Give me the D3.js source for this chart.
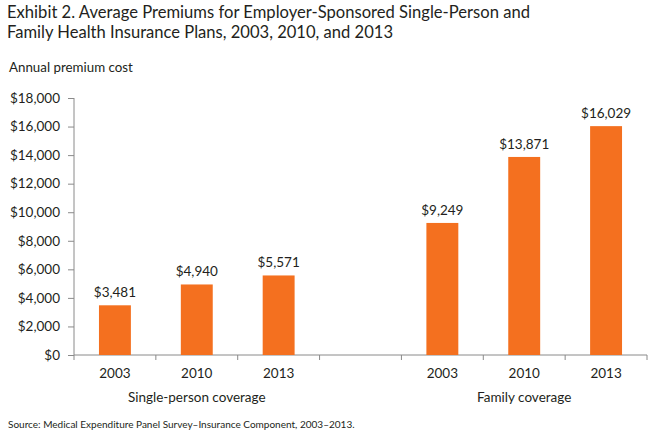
<!DOCTYPE html>
<html>
<head>
<meta charset="utf-8">
<script src="https://cdn.jsdelivr.net/npm/d3@7"></script>
<style>
  html, body { margin: 0; padding: 0; background: #fff; }
  svg { display: block; font-family: Lato, "Open Sans", sans-serif; }
</style>
</head>
<body>
<svg id="chart" width="656" height="436"></svg>
<script>
// ---- Data ----
const titleLines = [
  "Exhibit 2. Average Premiums for Employer-Sponsored Single-Person and",
  "Family Health Insurance Plans, 2003, 2010, and 2013"
];
const yAxisTitle = "Annual premium cost";
const sourceText = "Source: Medical Expenditure Panel Survey\u2013Insurance Component, 2003\u20132013.";
const years = ["2003", "2010", "2013"];
const groups = ["Single-person coverage", "Family coverage"];
const singleValues = [3481, 4940, 5571];
const familyValues = [9249, 13871, 16029];
const yTicks = [0, 2000, 4000, 6000, 8000, 10000, 12000, 14000, 16000, 18000];

const seriesByGroup = [singleValues, familyValues];
const rows = [];
groups.forEach((g, gi) => {
  years.forEach((y, yi) => rows.push({ key: gi + "-" + y, group: g, year: y, value: seriesByGroup[gi][yi] }));
});
// slot keys with an empty slot between the two groups
const slots = [...years.map(y => "0-" + y), "gap", ...years.map(y => "1-" + y)];

// ---- Layout ----
const svg = d3.select("#chart");
const textColor = "#231f20";
const axisColor = "#8a8a8a";
const barColor = "#f4701f";

const x = d3.scaleBand().domain(slots).range([74, 647]).paddingInner(0.61).paddingOuter(0.305);
const y = d3.scaleLinear().domain([0, 18000]).range([355, 98]);

function fit(sel, target) {
  const node = sel.node();
  const w = node.getComputedTextLength();
  const fs = parseFloat(sel.attr("font-size"));
  sel.attr("font-size", (fs * target / w).toFixed(2));
}

// Title (condensed to the reference width)
svg.append("text").attr("x", 7).attr("y", 18).attr("font-size", 17.5).attr("fill", textColor)
  .attr("textLength", 523).attr("lengthAdjust", "spacingAndGlyphs").text(titleLines[0]);
svg.append("text").attr("x", 7).attr("y", 37.5).attr("font-size", 17.5).attr("fill", textColor)
  .attr("textLength", 386).attr("lengthAdjust", "spacingAndGlyphs").text(titleLines[1]);

// Y axis title
const yt = svg.append("text").attr("x", 9).attr("y", 72).attr("font-size", 12.5).attr("fill", textColor).text(yAxisTitle);
fit(yt, 124);

// Y axis
const yAxis = svg.append("g").attr("transform", "translate(74,0)")
  .call(d3.axisLeft(y).tickValues(yTicks).tickSize(6).tickPadding(8).tickFormat(d => "$" + d3.format(",")(d)));
yAxis.select(".domain").attr("stroke", axisColor).attr("d", "M0," + y(18000) + "V" + y(0));
yAxis.selectAll(".tick line").attr("stroke", axisColor);
yAxis.selectAll(".tick text").attr("fill", textColor).attr("font-size", 13.5).attr("font-family", "Lato, sans-serif");

// X axis line and boundary ticks
const xAxisG = svg.append("g");
xAxisG.append("line").attr("x1", 74).attr("x2", 647).attr("y1", y(0)).attr("y2", y(0)).attr("stroke", axisColor);
const step = x.step();
const boundaries = d3.range(slots.length + 1).map(i => x.range()[0] + i * step);
xAxisG.selectAll("line.tk").data(boundaries).join("line").attr("class", "tk")
  .attr("x1", d => d).attr("x2", d => d).attr("y1", y(0)).attr("y2", y(0) + 5).attr("stroke", axisColor);

// Bars
svg.append("g").selectAll("rect").data(rows).join("rect")
  .attr("x", d => x(d.key)).attr("width", x.bandwidth())
  .attr("y", d => y(d.value)).attr("height", d => y(0) - y(d.value))
  .attr("fill", barColor);

// Value labels
svg.append("g").selectAll("text").data(rows).join("text")
  .attr("x", d => x(d.key) + x.bandwidth() / 2).attr("y", d => y(d.value) - 8)
  .attr("text-anchor", "middle").attr("font-size", 13.5).attr("fill", textColor)
  .text(d => "$" + d3.format(",")(d.value));

// Year labels
svg.append("g").selectAll("text").data(rows).join("text")
  .attr("x", d => x(d.key) + x.bandwidth() / 2).attr("y", 378)
  .attr("text-anchor", "middle").attr("font-size", 13.5).attr("fill", textColor)
  .text(d => d.year);

// Group labels (centred on middle year)
svg.append("g").selectAll("text").data(groups).join("text")
  .attr("x", (g, gi) => x(gi + "-" + years[1]) + x.bandwidth() / 2).attr("y", 402)
  .attr("text-anchor", "middle").attr("font-size", 13.5).attr("fill", textColor)
  .text(d => d);

// Source
const src = svg.append("text").attr("x", 8).attr("y", 428).attr("font-size", 9.5).attr("fill", textColor).text(sourceText);
fit(src, 347);
</script>
</body>
</html>
